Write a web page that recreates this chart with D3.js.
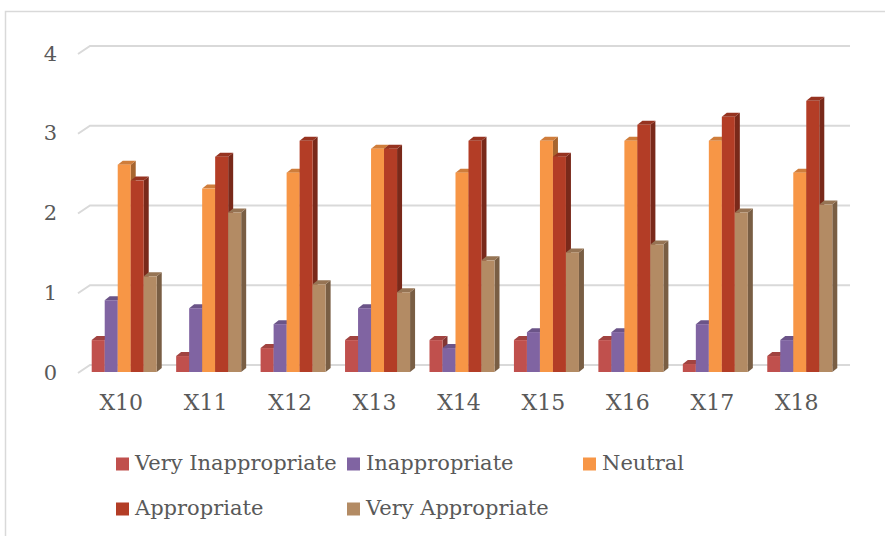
<!DOCTYPE html>
<html>
<head>
<meta charset="utf-8">
<script src="https://cdn.jsdelivr.net/npm/d3@7/dist/d3.min.js"></script>
<style>
  html, body { margin: 0; padding: 0; background: #fff; }
  svg { display: block; }
  text { font-family: "Palatino Linotype", "Book Antiqua", Palatino, "DejaVu Serif", serif; fill: #595959; }
</style>
</head>
<body>
<svg id="chart" width="885" height="536"></svg>
<script>
// Survey answers per item
const categories = ["X10", "X11", "X12", "X13", "X14", "X15", "X16", "X17", "X18"];
const seriesNames = ["Very Inappropriate", "Inappropriate", "Neutral", "Appropriate", "Very Appropriate"];
const veryInappropriate = [0.4, 0.2, 0.3, 0.4, 0.4, 0.4, 0.4, 0.1, 0.2];
const inappropriate     = [0.9, 0.8, 0.6, 0.8, 0.3, 0.5, 0.5, 0.6, 0.4];
const neutral           = [2.6, 2.3, 2.5, 2.8, 2.5, 2.9, 2.9, 2.9, 2.5];
const appropriate       = [2.4, 2.7, 2.9, 2.8, 2.9, 2.7, 3.1, 3.2, 3.4];
const veryAppropriate   = [1.2, 2.0, 1.1, 1.0, 1.4, 1.5, 1.6, 2.0, 2.1];
const yTicks = [0, 1, 2, 3, 4];

const seriesValues = [veryInappropriate, inappropriate, neutral, appropriate, veryAppropriate];
const colors = ["#c0504d", "#8064a2", "#f79646", "#b33d26", "#b38b64"];

const svg = d3.select("#chart");

// outer chart frame
svg.append("rect")
  .attr("x", 5.5).attr("y", 11.5)
  .attr("width", 900).attr("height", 540)
  .attr("fill", "none").attr("stroke", "#d9d9d9").attr("stroke-width", 1.5);

// front-plane scales
const y = d3.scaleLinear().domain([0, 4]).range([372, 53]);
const x = d3.scaleBand().domain(categories).range([82, 842]).paddingInner(0.23).paddingOuter(0.115);
const xs = d3.scaleBand().domain(seriesNames).range([0, x.bandwidth()]);

// depth of the back wall and of each column
const wallDX = 12, wallDY = -8;
const barDX = 5, barDY = -4;
const wallLeft = 78, wallRight = 850;

// gridlines on the back wall, with the short receding stroke on the left
const grid = svg.append("g");
yTicks.forEach(t => {
  const yf = y(t) + 1;
  const yb = y(t) + 1 + wallDY;
  grid.append("path")
    .attr("d", `M${wallLeft},${yf}L${wallLeft + wallDX},${yb}L${wallRight},${yb}`)
    .attr("fill", "none").attr("stroke", "#d9d9d9").attr("stroke-width", 2);
});

// y tick labels
svg.append("g").selectAll("text").data(yTicks).join("text")
  .attr("x", 57).attr("y", d => y(d) + 2)
  .attr("text-anchor", "end").attr("dominant-baseline", "middle")
  .attr("font-size", 21)
  .text(d => d);

// 3D columns
const bars = svg.append("g");
categories.forEach((c, ci) => {
  seriesNames.forEach((s, si) => {
    const v = seriesValues[si][ci];
    const base = d3.color(colors[si]);
    const x0 = x(c) + xs(s);
    const w = xs.bandwidth();
    const yt = y(v), yb = y(0);
    const g = bars.append("g");
    // right side face
    g.append("path")
      .attr("d", `M${x0 + w},${yt}L${x0 + w + barDX},${yt + barDY}L${x0 + w + barDX},${yb + barDY}L${x0 + w},${yb}Z`)
      .attr("fill", base.darker(1.1));
    // top face
    g.append("path")
      .attr("d", `M${x0},${yt}L${x0 + barDX},${yt + barDY}L${x0 + w + barDX},${yt + barDY}L${x0 + w},${yt}Z`)
      .attr("fill", base.darker(0.5));
    // front face
    g.append("rect")
      .attr("x", x0).attr("y", yt)
      .attr("width", w).attr("height", yb - yt)
      .attr("fill", base);
  });
});

// category labels
svg.append("g").selectAll("text").data(categories).join("text")
  .attr("x", d => x(d) + x.bandwidth() / 2 - 3)
  .attr("y", 404)
  .attr("text-anchor", "middle").attr("dominant-baseline", "middle")
  .attr("font-size", 22)
  .text(d => d);

// legend, three columns over two rows
const legendCols = [116, 347, 583];
const legendRows = [464, 509];
const legend = svg.append("g");
seriesNames.forEach((s, i) => {
  const lx = legendCols[i % 3], ly = legendRows[Math.floor(i / 3)];
  legend.append("rect")
    .attr("x", lx).attr("y", ly - 6.5)
    .attr("width", 13).attr("height", 13)
    .attr("fill", colors[i]);
  legend.append("text")
    .attr("x", lx + 19).attr("y", ly)
    .attr("dominant-baseline", "middle")
    .attr("font-size", 21)
    .text(s);
});
</script>
</body>
</html>
